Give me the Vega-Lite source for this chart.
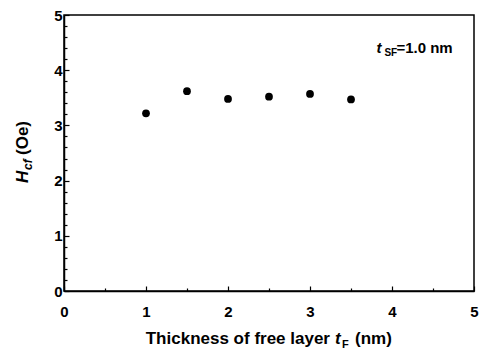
{
  "$schema": "https://vega.github.io/schema/vega-lite/v6.json",
  "width": 410,
  "height": 276,
  "autosize": {"type": "none"},
  "padding": {"left": 64, "top": 15, "right": 11, "bottom": 61},
  "background": "white",
  "config": {
    "view": {"stroke": "black", "strokeWidth": 1.5},
    "font": "Liberation Sans",
    "axis": {
      "domainColor": "black",
      "domainWidth": 1.5,
      "tickColor": "black",
      "tickWidth": 1.2,
      "labelColor": "black",
      "labelFont": "Liberation Sans",
      "labelFontSize": 15,
      "labelFontWeight": "bold",
      "labelOverlap": false,
      "labelBound": false,
      "labelFlush": false,
      "grid": false
    }
  },
  "datasets": {
    "points": [
      {"t": 1.0, "H": 3.22},
      {"t": 1.5, "H": 3.62},
      {"t": 2.0, "H": 3.48},
      {"t": 2.5, "H": 3.52},
      {"t": 3.0, "H": 3.57},
      {"t": 3.5, "H": 3.47}
    ]
  },
  "resolve": {"axis": {"x": "independent", "y": "independent"}},
  "layer": [
    {
      "data": {"name": "points"},
      "mark": {"type": "circle", "size": 0, "opacity": 0},
      "encoding": {
        "x": {
          "field": "t", "type": "quantitative",
          "scale": {"domain": [0, 5], "nice": false},
          "axis": {
            "title": null, "orient": "bottom", "domain": false, "labels": false,
            "values": [0.5, 1.5, 2.5, 3.5, 4.5],
            "tickSize": -3
          }
        },
        "y": {
          "field": "H", "type": "quantitative",
          "scale": {"domain": [0, 5], "nice": false},
          "axis": {
            "title": null, "orient": "left", "domain": false, "labels": false,
            "values": [0.2, 0.4, 0.6, 0.8, 1.2, 1.4, 1.6, 1.8, 2.2, 2.4, 2.6, 2.8, 3.2, 3.4, 3.6, 3.8, 4.2, 4.4, 4.6, 4.8],
            "tickSize": -3
          }
        }
      }
    },
    {
      "data": {"name": "points"},
      "mark": {"type": "circle", "size": 60, "color": "black", "opacity": 1},
      "encoding": {
        "x": {
          "field": "t", "type": "quantitative",
          "scale": {"domain": [0, 5], "nice": false},
          "axis": {
            "title": null, "orient": "bottom",
            "values": [0, 1, 2, 3, 4, 5],
            "format": "d",
            "tickSize": -5,
            "labelPadding": 18
          }
        },
        "y": {
          "field": "H", "type": "quantitative",
          "scale": {"domain": [0, 5], "nice": false},
          "axis": {
            "title": null, "orient": "left",
            "values": [0, 1, 2, 3, 4, 5],
            "format": "d",
            "tickSize": -5,
            "labelPadding": 7
          }
        }
      }
    },
    {
      "data": {"values": [{"x": 2.5, "y": -0.96, "s": "Thickness of free layer"}]},
      "mark": {"type": "text", "align": "right", "baseline": "alphabetic", "fontSize": 17, "fontWeight": "bold", "dx": 61, "color": "black"},
      "encoding": {"x": {"field": "x", "type": "quantitative", "axis": null}, "y": {"field": "y", "type": "quantitative", "axis": null}, "text": {"field": "s"}}
    },
    {
      "data": {"values": [{"x": 2.5, "y": -0.96, "s": "t"}]},
      "mark": {"type": "text", "align": "left", "baseline": "alphabetic", "fontSize": 17, "fontWeight": "bold", "fontStyle": "italic", "dx": 66, "color": "black"},
      "encoding": {"x": {"field": "x", "type": "quantitative", "axis": null}, "y": {"field": "y", "type": "quantitative", "axis": null}, "text": {"field": "s"}}
    },
    {
      "data": {"values": [{"x": 2.5, "y": -0.96, "s": "F"}]},
      "mark": {"type": "text", "align": "left", "baseline": "alphabetic", "fontSize": 11, "fontWeight": "bold", "dx": 73, "dy": 4, "color": "black"},
      "encoding": {"x": {"field": "x", "type": "quantitative", "axis": null}, "y": {"field": "y", "type": "quantitative", "axis": null}, "text": {"field": "s"}}
    },
    {
      "data": {"values": [{"x": 2.5, "y": -0.96, "s": "(nm)"}]},
      "mark": {"type": "text", "align": "left", "baseline": "alphabetic", "fontSize": 17, "fontWeight": "bold", "dx": 86, "color": "black"},
      "encoding": {"x": {"field": "x", "type": "quantitative", "axis": null}, "y": {"field": "y", "type": "quantitative", "axis": null}, "text": {"field": "s"}}
    },
    {
      "data": {"values": [{"x": -0.445, "y": 2.5, "s": "H"}]},
      "mark": {"type": "text", "align": "left", "baseline": "alphabetic", "angle": 270, "fontSize": 17, "fontWeight": "bold", "fontStyle": "italic", "dx": -30, "color": "black"},
      "encoding": {"x": {"field": "x", "type": "quantitative", "axis": null}, "y": {"field": "y", "type": "quantitative", "axis": null}, "text": {"field": "s"}}
    },
    {
      "data": {"values": [{"x": -0.445, "y": 2.5, "s": "cf"}]},
      "mark": {"type": "text", "align": "left", "baseline": "alphabetic", "angle": 270, "fontSize": 12, "fontWeight": "bold", "fontStyle": "italic", "dx": -17, "dy": 4, "color": "black"},
      "encoding": {"x": {"field": "x", "type": "quantitative", "axis": null}, "y": {"field": "y", "type": "quantitative", "axis": null}, "text": {"field": "s"}}
    },
    {
      "data": {"values": [{"x": -0.445, "y": 2.5, "s": "(Oe)"}]},
      "mark": {"type": "text", "align": "left", "baseline": "alphabetic", "angle": 270, "fontSize": 17, "fontWeight": "bold", "dx": -2, "color": "black"},
      "encoding": {"x": {"field": "x", "type": "quantitative", "axis": null}, "y": {"field": "y", "type": "quantitative", "axis": null}, "text": {"field": "s"}}
    },
    {
      "data": {"values": [{"x": 3.81, "y": 4.32, "s": "t"}]},
      "mark": {"type": "text", "align": "left", "baseline": "alphabetic", "fontSize": 15, "fontWeight": "bold", "fontStyle": "italic", "color": "black"},
      "encoding": {"x": {"field": "x", "type": "quantitative", "axis": null}, "y": {"field": "y", "type": "quantitative", "axis": null}, "text": {"field": "s"}}
    },
    {
      "data": {"values": [{"x": 3.81, "y": 4.32, "s": "SF"}]},
      "mark": {"type": "text", "align": "left", "baseline": "alphabetic", "fontSize": 10, "fontWeight": "bold", "dx": 8, "dy": 3, "color": "black"},
      "encoding": {"x": {"field": "x", "type": "quantitative", "axis": null}, "y": {"field": "y", "type": "quantitative", "axis": null}, "text": {"field": "s"}}
    },
    {
      "data": {"values": [{"x": 3.81, "y": 4.32, "s": "=1.0 nm"}]},
      "mark": {"type": "text", "align": "left", "baseline": "alphabetic", "fontSize": 15, "fontWeight": "bold", "dx": 20, "color": "black"},
      "encoding": {"x": {"field": "x", "type": "quantitative", "axis": null}, "y": {"field": "y", "type": "quantitative", "axis": null}, "text": {"field": "s"}}
    }
  ]
}
